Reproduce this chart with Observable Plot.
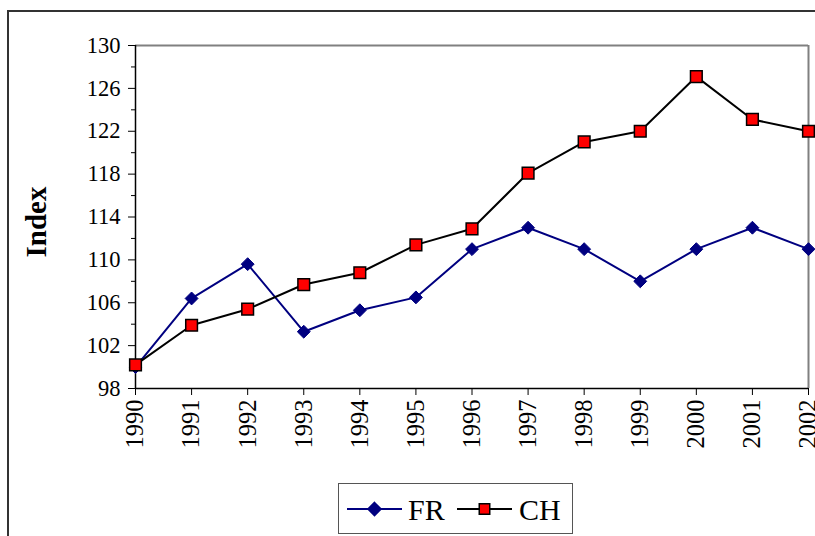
<!DOCTYPE html>
<html>
<head>
<meta charset="utf-8">
<script src="https://cdn.jsdelivr.net/npm/d3@7"></script>
<script src="https://cdn.jsdelivr.net/npm/@observablehq/plot@0.6"></script>
<style>
  html, body { margin: 0; padding: 0; background: #fff; }
  #wrap { position: relative; width: 815px; height: 536px; overflow: hidden; font-family: "Liberation Serif", "Times New Roman", serif; }
  #frame { position: absolute; left: 7px; top: 10px; width: 900px; height: 700px; border: 2px solid #333; box-sizing: border-box; }
  #chart { position: absolute; left: 0; top: 0; }
  #legend { position: absolute; left: 338px; top: 483px; width: 235px; height: 51px; border: 1.5px solid #555; box-sizing: border-box; background: #fff; }
</style>
</head>
<body>
<div id="wrap">
  <div id="frame"></div>
  <div id="chart"></div>
  <div id="legend"></div>
</div>
<script>
const years = [1990, 1991, 1992, 1993, 1994, 1995, 1996, 1997, 1998, 1999, 2000, 2001, 2002];
const frValues = [100.0, 106.4, 109.6, 103.3, 105.3, 106.5, 111.0, 113.0, 111.0, 108.0, 111.0, 113.0, 111.0];
const chValues = [100.2, 103.9, 105.4, 107.7, 108.8, 111.4, 112.9, 118.1, 121.0, 122.0, 127.1, 123.1, 122.0];
const yTicks = [98, 102, 106, 110, 114, 118, 122, 126, 130];
const yMinorTicks = [100, 104, 108, 112, 116, 120, 124, 128];
const seriesNames = ["FR", "CH"];
const yLabel = "Index";

const fr = years.map((year, i) => ({year, value: frValues[i]}));
const ch = years.map((year, i) => ({year, value: chValues[i]}));

const navy = "#000080";
const serif = "'Liberation Serif', 'Times New Roman', serif";

const chart = Plot.plot({
  width: 815,
  height: 480,
  marginLeft: 135,
  marginRight: 7,
  marginTop: 45,
  marginBottom: 92,
  style: {fontFamily: serif, fontSize: "20px", color: "black", background: "transparent", overflow: "visible"},
  x: {type: "linear", domain: [years[0], years[years.length - 1]]},
  y: {domain: [yTicks[0], yTicks[yTicks.length - 1]]},
  marks: [
    Plot.ruleY([yTicks[yTicks.length - 1]], {stroke: "#808080", strokeWidth: 2}),
    Plot.ruleX([years[years.length - 1]], {stroke: "#808080", strokeWidth: 2}),
    Plot.ruleX([years[0]], {stroke: "#000", strokeWidth: 1.5}),
    Plot.ruleY([yTicks[0]], {stroke: "#000", strokeWidth: 1.5}),
    Plot.axisY(yTicks, {tickSize: 7, tickPadding: 8, fontSize: 22.5, fontFamily: serif, label: null, stroke: "#000"}),
    Plot.axisY(yMinorTicks, {tickSize: 4, text: null, label: null, stroke: "#000"}),
    Plot.axisX(years, {tickSize: 7, tickPadding: 4, tickRotate: -90, fontSize: 24.5, fontFamily: serif, tickFormat: d => String(d), label: null, stroke: "#000"}),
    Plot.line(fr, {x: "year", y: "value", stroke: navy, strokeWidth: 2}),
    Plot.dot(fr, {x: "year", y: "value", symbol: "diamond2", r: 5.8, fill: navy, stroke: navy, strokeWidth: 1}),
    Plot.line(ch, {x: "year", y: "value", stroke: "#000", strokeWidth: 2}),
    Plot.dot(ch, {x: "year", y: "value", symbol: "square", r: 6.6, fill: "#ff0000", stroke: "#000", strokeWidth: 1.5}),
    Plot.text([yLabel], {frameAnchor: "left", textAnchor: "middle", lineAnchor: "middle", text: d => d, rotate: -90, dx: -99, dy: 5, fontSize: 29, fontWeight: "bold", fontFamily: serif, fill: "#000"})
  ]
});
document.getElementById("chart").appendChild(chart);

// Legend
const leg = d3.select("#legend").append("svg").attr("width", 235).attr("height", 51)
  .style("position", "absolute").style("left", "-1.5px").style("top", "-1.5px");
const legItems = [
  {name: seriesNames[0], color: navy, x0: 9, x1: 64, tx: 70, sym: d3.symbolDiamond2, size: 110, fill: navy, stroke: navy},
  {name: seriesNames[1], color: "#000", x0: 119, x1: 174, tx: 181, sym: d3.symbolSquare, size: 110, fill: "#ff0000", stroke: "#000"}
];
const cy = 26;
for (const it of legItems) {
  leg.append("line").attr("x1", it.x0).attr("x2", it.x1).attr("y1", cy).attr("y2", cy).attr("stroke", it.color).attr("stroke-width", 2);
  leg.append("path").attr("d", d3.symbol(it.sym, it.size)()).attr("transform", `translate(${(it.x0 + it.x1) / 2},${cy})`)
    .attr("fill", it.fill).attr("stroke", it.stroke).attr("stroke-width", 1.5);
  leg.append("text").attr("x", it.tx).attr("y", cy).attr("dy", "0.36em").text(it.name)
    .attr("font-family", serif).attr("font-size", 30).attr("fill", "#000");
}
</script>
</body>
</html>
